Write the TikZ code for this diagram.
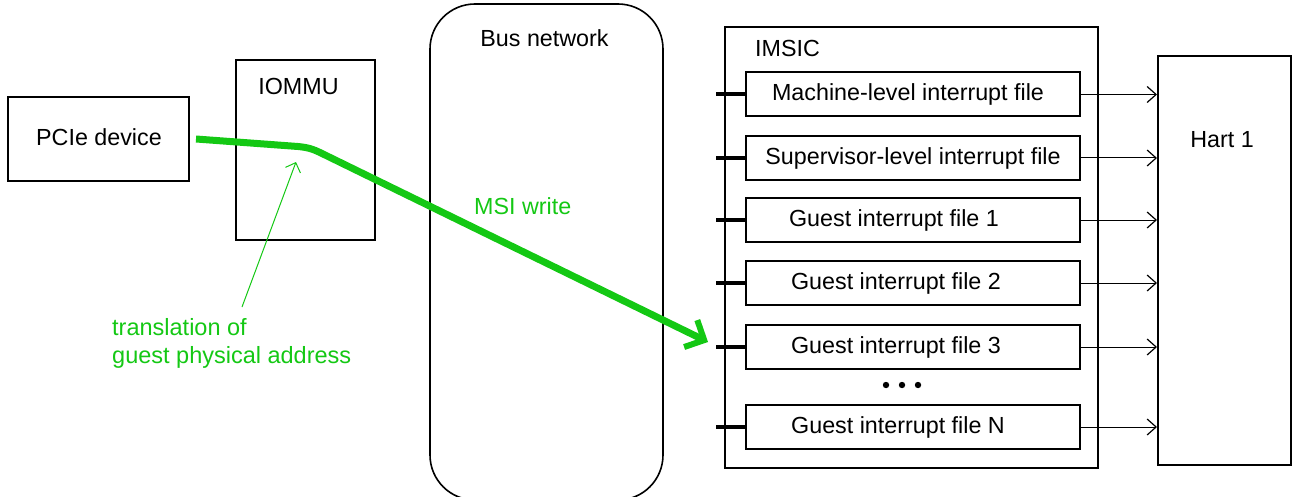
\documentclass[tikz,border=0pt]{standalone}
\usepackage{fontspec}
\setmainfont{Liberation Sans}
\usetikzlibrary{arrows.meta}
\definecolor{grn}{RGB}{20,200,20}
\tikzset{
  box/.style={draw, line width=2pt, inner sep=0pt},
  filebox/.style={box, minimum width=334pt, minimum height=44pt},
  lbl/.style={inner sep=0pt, font=\fontsize{23.3}{27}\selectfont},
  glbl/.style={lbl, text=grn},
  stub/.style={line width=4pt},
  toHart/.style={line width=1pt, -{Straight Barb[length=9pt,width=16pt,line width=1.2pt]}},
  msi/.style={grn, line width=7pt, line join=round, -{Straight Barb[length=15pt,width=30pt,line width=6pt]}},
  thin/.style={grn, line width=1pt, -{Straight Barb[length=8pt,width=16pt,line width=1pt]}}
}
\begin{document}
\begin{tikzpicture}[x=1pt,y=-1pt]
\useasboundingbox (0,0) rectangle (1292,497);
% PCIe device
\node[box, minimum width=181pt, minimum height=84pt] (pcie) at (98.5,139) {};
\node[lbl] (pcielbl) at (99,137) {PCIe device};
% IOMMU
\node[box, minimum width=139pt, minimum height=180pt] (iommu) at (305.5,150) {};
\node[lbl] (iommulbl) at (298.5,86) {IOMMU};
% Bus network
\node[box, line width=1.6pt, rounded corners=45pt, minimum width=233pt, minimum height=496pt] (bus) at (546.5,252) {};
\node[lbl] (buslbl) at (544.5,38) {Bus network};
% IMSIC
\node[box, minimum width=373pt, minimum height=440pt] (imsic) at (911.5,247.5) {};
\node[lbl, anchor=west] (imsiclbl) at (755,48) {IMSIC};
% interrupt files
\node[filebox] (fm) at (913,94.5) {};
\node[filebox] (fs) at (913,158) {};
\node[filebox] (f1) at (913,220) {};
\node[filebox] (f2) at (913,283) {};
\node[filebox] (f3) at (913,347) {};
\node[filebox] (fn) at (913,427) {};
\node[lbl] (fmlbl) at (908,94.5) {Machine-level interrupt file};
\node[lbl] (fslbl) at (913,158) {Supervisor-level interrupt file};
\node[lbl] (f1lbl) at (894,220) {Guest interrupt file 1};
\node[lbl] (f2lbl) at (896,283) {Guest interrupt file 2};
\node[lbl] (f3lbl) at (896,347) {Guest interrupt file 3};
\node[lbl] (fnlbl) at (898,427) {Guest interrupt file N};
\fill (886,385) circle (3.2pt) (902,385) circle (3.2pt) (918,385) circle (3.2pt);
% Hart
\node[box, minimum width=133pt, minimum height=409pt] (hart) at (1224.5,260.5) {};
\node[lbl] (hartlbl) at (1222,140) {Hart 1};
% stubs and arrows
\foreach \f in {fm,fs,f1,f2,f3,fn}{
  \coordinate (s\f) at ([xshift=-29pt]\f.west);
  \draw[stub] (s\f) -- (\f.west);
  \draw[toHart] (\f.east) -- (\f.east -| hart.west);
}
% MSI write path
\coordinate (msistart) at (196,139);
\coordinate (msiend) at (708,342);
\draw[msi] (msistart) -- (298,146.5) .. controls (308,147.5) and (313,149) .. (322,153.5) -- (msiend);
\node[glbl, anchor=west] (msilbl) at (474,206) {MSI write};
% translation annotation
\coordinate (tstart) at (242,307);
\coordinate (tend) at (296,162);
\draw[thin] (tstart) -- (tend);
\node[glbl, anchor=north west, align=left, font=\fontsize{23.5}{28}\selectfont] (translbl) at (112,318) {translation of\\guest physical address};
\end{tikzpicture}
\end{document}
